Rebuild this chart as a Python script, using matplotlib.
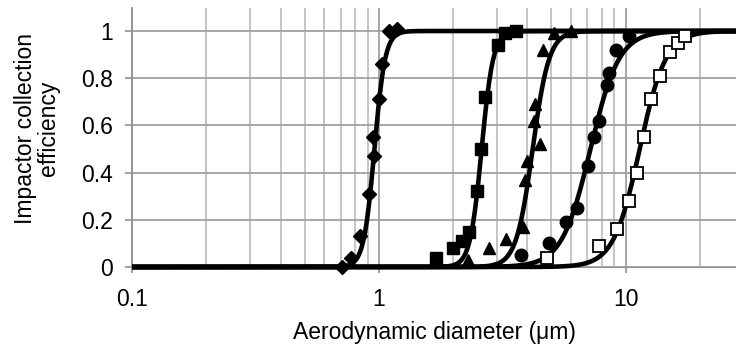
import matplotlib
matplotlib.use("Agg")
import matplotlib.pyplot as plt
import numpy as np
from matplotlib.ticker import LogLocator, FuncFormatter, FixedLocator

plt.rcParams['font.family'] = ['Liberation Sans', 'DejaVu Sans']

# measured stage efficiencies (aerodynamic diameter in um, efficiency 0-1)
d_stage1 = [0.71, 0.77, 0.84, 0.91, 0.95, 0.96, 1.00, 1.03, 1.10, 1.19]
e_stage1 = [0.00, 0.04, 0.13, 0.31, 0.55, 0.47, 0.71, 0.86, 1.00, 1.01]

d_stage2 = [1.71, 2.00, 2.18, 2.31, 2.50, 2.60, 2.69, 3.03, 3.25, 3.58]
e_stage2 = [0.04, 0.08, 0.11, 0.15, 0.32, 0.50, 0.72, 0.94, 0.99, 1.00]

d_stage3 = [2.29, 2.79, 3.28, 3.85, 3.92, 3.99, 4.25, 4.30, 4.50, 4.62, 5.12, 5.98]
e_stage3 = [0.03, 0.08, 0.12, 0.17, 0.37, 0.45, 0.62, 0.69, 0.52, 0.92, 0.99, 1.00]

d_stage4 = [3.78, 4.89, 5.71, 6.37, 7.03, 7.43, 7.79, 8.38, 8.56, 9.11, 10.3]
e_stage4 = [0.05, 0.10, 0.19, 0.25, 0.43, 0.55, 0.62, 0.77, 0.82, 0.92, 0.98]

d_stage5 = [4.81, 7.79, 9.19, 10.31, 11.08, 11.86, 12.71, 13.77, 15.13, 16.35, 17.36]
e_stage5 = [0.04, 0.09, 0.16, 0.28, 0.40, 0.55, 0.71, 0.81, 0.91, 0.95, 0.98]

# fitted cut-off curves: d50 (um) and steepness
d50 = [0.96, 2.61, 4.2, 7.2, 11.4]
steep = [20.0, 18.5, 13.0, 7.5, 8.2]

x_ticks = [0.1, 1, 10]
y_ticks = [0, 0.2, 0.4, 0.6, 0.8, 1]


def efficiency(d, d_cut, k):
    return 1.0 / (1.0 + (d_cut / d) ** k)


fig = plt.figure(figsize=(7.36, 3.47), dpi=100)
ax = fig.add_axes([132 / 736, 1 - 267 / 347, 604 / 736, 259 / 347])
ax.set_xscale('log')
ax.set_xlim(0.1, 28)
ax.set_ylim(0, 1.0975)

d_fine = np.logspace(-1, np.log10(28), 600)
for dc, k in zip(d50, steep):
    ax.plot(d_fine, efficiency(d_fine, dc, k), color='black', lw=3.3,
            solid_capstyle='butt', zorder=3, clip_on=False)

ax.plot(d_stage1, e_stage1, 'D', color='black', ms=7, zorder=4, clip_on=False)
ax.plot(d_stage2, e_stage2, 's', color='black', ms=8.5, zorder=4, clip_on=False)
ax.plot(d_stage3, e_stage3, '^', color='black', ms=9, zorder=4, clip_on=False)
ax.plot(d_stage4, e_stage4, 'o', color='black', ms=9, zorder=4, clip_on=False)
ax.plot(d_stage5, e_stage5, 's', mfc='white', mec='black', mew=1.3, ms=9,
        zorder=4, clip_on=False)

# grid
ax.xaxis.set_major_locator(FixedLocator(x_ticks))
ax.xaxis.set_minor_locator(LogLocator(base=10, subs=np.arange(2, 10)))
ax.xaxis.set_major_formatter(FuncFormatter(lambda v, p: '%g' % v))
ax.xaxis.set_minor_formatter(FuncFormatter(lambda v, p: ''))
ax.yaxis.set_major_locator(FixedLocator(y_ticks))
ax.yaxis.set_major_formatter(FuncFormatter(lambda v, p: '%g' % v))
ax.grid(True, which='major', axis='both', color='#a0a0a0', lw=1.3)
ax.grid(True, which='minor', axis='x', color='#c0c0c0', lw=1.3)
ax.set_axisbelow(True)

for s in ['top', 'right']:
    ax.spines[s].set_visible(False)
ax.spines['left'].set_color('#909090')
ax.spines['left'].set_linewidth(1.3)
ax.spines['bottom'].set_color('#909090')

ax.tick_params(axis='y', which='major', length=5, width=1.2, color='#909090',
               pad=9, labelsize=16.5)
ax.tick_params(axis='x', which='major', length=4, width=1.2, color='#909090',
               pad=11, labelsize=16.5)
ax.tick_params(axis='x', which='minor', length=0)

ax.set_xlabel('Aerodynamic diameter (μm)', fontsize=16.5, labelpad=7)
fig.text(37 / 736, 1 - 128 / 347, 'Impactor collection\nefficiency', rotation=90,
         ha='center', va='center', multialignment='center', fontsize=16.5,
         linespacing=1.0)

fig.savefig('out.png', dpi=100)
